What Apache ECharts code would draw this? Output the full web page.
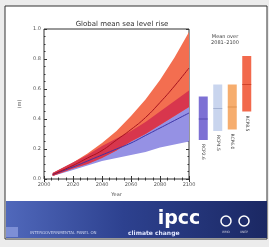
<!DOCTYPE html>
<html>
<head>
<meta charset="utf-8">
<script src="https://cdn.jsdelivr.net/npm/echarts@6/dist/echarts.min.js"></script>
<style>
  html, body { margin: 0; padding: 0; background: #ececec; }
  #chart { width: 269px; height: 247px; }
</style>
</head>
<body>
<div id="chart"></div>
<script>
// time series (m, relative to 1986-2005)
const years = [2006, 2020, 2030, 2040, 2050, 2060, 2070, 2080, 2090, 2100]
const rcp26Low = [0.02, 0.06, 0.09, 0.12, 0.14, 0.16, 0.18, 0.21, 0.23, 0.25]
const rcp26High = [0.04, 0.11, 0.16, 0.22, 0.27, 0.32, 0.38, 0.45, 0.52, 0.59]
const rcp26Mean = [0.03, 0.08, 0.12, 0.16, 0.20, 0.24, 0.29, 0.34, 0.39, 0.44]
const rcp85Low = [0.02, 0.07, 0.10, 0.14, 0.19, 0.25, 0.30, 0.36, 0.42, 0.48]
const rcp85High = [0.04, 0.11, 0.17, 0.24, 0.32, 0.42, 0.53, 0.66, 0.81, 0.98]
const rcp85Mean = [0.03, 0.09, 0.14, 0.19, 0.26, 0.33, 0.41, 0.51, 0.62, 0.74]

// mean over 2081-2100
const scenarios = ['RCP2.6', 'RCP4.5', 'RCP6.0', 'RCP8.5']
const barLow = [0.26, 0.32, 0.33, 0.45]
const barHigh = [0.55, 0.63, 0.63, 0.82]
const barMean = [0.40, 0.47, 0.48, 0.63]
const barColors = ['#7d70d4', '#c9d5ee', '#f6ad6e', '#f2694c']
const barMeanColors = ['#4b3fa8', '#9aa8cc', '#d98a48', '#c73a22']

const pairs = arr => years.map((y, i) => [y, arr[i]])

// overlap of the two ranges
const overlapHigh = rcp26High.map((v, i) => Math.min(v, rcp85High[i]))
const overlapLow = rcp85Low.map((v, i) => Math.max(v, rcp26Low[i]))

// band drawn as polygon between low and high through the axis scales
const band = (low, high, color) => ({
    type: 'custom', xAxisIndex: 0, yAxisIndex: 0, z: 2, silent: true,
    data: [[years[0], high[0]]],
    renderItem: (params, api) => {
        const top = years.map((y, i) => api.coord([y, high[i]]))
        const bot = years.map((y, i) => api.coord([y, Math.min(low[i], high[i])])).reverse()
        return {
            type: 'polygon',
            shape: { points: top.concat(bot) },
            style: { fill: color }
        }
    }
})

const chart = echarts.init(document.getElementById('chart'))
const axisText = { fontSize: 5, color: '#555', fontFamily: 'DejaVu Sans' }

chart.setOption({
    animation: false,
    backgroundColor: 'transparent',
    graphic: [
        { type: 'rect', shape: { x: 5, y: 6, width: 262, height: 233 },
          style: { fill: '#fff', stroke: '#333', lineWidth: 1 }, z: -10 },
        { type: 'rect', shape: { x: 6, y: 201, width: 261, height: 37 },
          style: { fill: new echarts.graphic.LinearGradient(0, 0, 1, 0, [
              { offset: 0, color: '#5068bb' }, { offset: 0.45, color: '#2d418f' }, { offset: 1, color: '#1b2863' }]) }, z: -5 },
        { type: 'rect', shape: { x: 6, y: 227, width: 12, height: 10 }, style: { fill: '#7d8fd6' }, z: -4 },
        { type: 'text', x: 179, y: 219, style: { text: 'ipcc', fill: '#fff', font: 'bold 19px "DejaVu Sans"', align: 'center', verticalAlign: 'middle' } },
        { type: 'text', x: 30, y: 233, style: { text: 'INTERGOVERNMENTAL PANEL ON', fill: '#c8d0ee', font: '4px "DejaVu Sans"', verticalAlign: 'middle' } },
        { type: 'text', x: 128, y: 233, style: { text: 'climate change', fill: '#e0e6ff', font: 'bold 6px "DejaVu Sans"', verticalAlign: 'middle' } },
        { type: 'circle', shape: { cx: 226, cy: 221, r: 5 }, style: { fill: 'none', stroke: '#fff', lineWidth: 1.5 } },
        { type: 'circle', shape: { cx: 244, cy: 221, r: 5 }, style: { fill: 'none', stroke: '#fff', lineWidth: 1.5 } },
        { type: 'text', x: 226, y: 231, style: { text: 'WMO', fill: '#ccd', font: '3px "DejaVu Sans"', align: 'center' } },
        { type: 'text', x: 244, y: 231, style: { text: 'UNEP', fill: '#ccd', font: '3px "DejaVu Sans"', align: 'center' } },
        { type: 'text', x: 225, y: 40, style: { text: 'Mean over\n2081–2100', fill: '#444', font: '5px "DejaVu Sans"', align: 'center', verticalAlign: 'middle', lineHeight: 6 } }
    ],
    title: {
        text: 'Global mean sea level rise', left: 117, top: 16, textAlign: 'center',
        textStyle: { fontSize: 7, fontWeight: 'normal', color: '#333', fontFamily: 'DejaVu Sans' }
    },
    grid: [
        { left: 44, right: 80, top: 29, bottom: 68, show: true, borderColor: '#333', borderWidth: 1, backgroundColor: '#fff' },
        { left: 196, width: 58, top: 29, bottom: 68 }
    ],
    xAxis: [
        { type: 'value', gridIndex: 0, min: 2000, max: 2100, interval: 20,
          name: 'Year', nameLocation: 'middle', nameGap: 9, nameTextStyle: axisText,
          axisLine: { show: false }, splitLine: { show: false },
          axisTick: { inside: true, length: 3, lineStyle: { color: '#333' } },
          minorTick: { show: true, splitNumber: 4, length: 1.5, lineStyle: { color: '#333' } },
          axisLabel: Object.assign({ margin: 3, formatter: v => String(v) }, axisText) },
        { type: 'value', gridIndex: 0, position: 'top', min: 2000, max: 2100, interval: 20,
          axisLine: { show: false }, splitLine: { show: false }, axisLabel: { show: false },
          axisTick: { inside: true, length: 3, lineStyle: { color: '#333' } },
          minorTick: { show: true, splitNumber: 4, length: 1.5, lineStyle: { color: '#333' } } },
        { type: 'category', gridIndex: 1, data: scenarios, show: false }
    ],
    yAxis: [
        { type: 'value', gridIndex: 0, min: 0, max: 1, interval: 0.2,
          name: '(m)', nameLocation: 'middle', nameGap: 17, nameRotate: 90, nameTextStyle: axisText,
          axisLine: { show: false }, splitLine: { show: false },
          axisTick: { inside: true, length: 3, lineStyle: { color: '#333' } },
          minorTick: { show: true, splitNumber: 4, length: 1.5, lineStyle: { color: '#333' } },
          axisLabel: Object.assign({ margin: 3, formatter: v => v.toFixed(1) }, axisText) },
        { type: 'value', gridIndex: 0, position: 'right', min: 0, max: 1, interval: 0.2,
          axisLine: { show: false }, splitLine: { show: false }, axisLabel: { show: false },
          axisTick: { inside: true, length: 3, lineStyle: { color: '#333' } },
          minorTick: { show: true, splitNumber: 4, length: 1.5, lineStyle: { color: '#333' } } },
        { type: 'value', gridIndex: 1, min: 0, max: 1, show: false }
    ],
    series: [
        band(rcp26Low, rcp26High, '#9591e4'),
        band(rcp85Low, rcp85High, '#f36e50'),
        band(overlapLow, overlapHigh, '#d8364d'),
        { type: 'line', smooth: true, symbol: 'none', data: pairs(rcp26Mean), lineStyle: { color: '#3d33a6', width: 1 }, z: 3 },
        { type: 'line', smooth: true, symbol: 'none', data: pairs(rcp85Mean), lineStyle: { color: '#a8121e', width: 1 }, z: 3 },
        {
            type: 'custom', xAxisIndex: 2, yAxisIndex: 2,
            data: scenarios.map((s, i) => [i, barLow[i], barHigh[i], barMean[i]]),
            renderItem: (params, api) => {
                const i = api.value(0)
                const lo = api.coord([i, api.value(1)])
                const hi = api.coord([i, api.value(2)])
                const mn = api.coord([i, api.value(3)])
                const w = 9
                return {
                    type: 'group',
                    children: [
                        { type: 'rect', shape: { x: lo[0] - w / 2, y: hi[1], width: w, height: lo[1] - hi[1] },
                          style: { fill: barColors[i] } },
                        { type: 'line', shape: { x1: lo[0] - w / 2, y1: mn[1], x2: lo[0] + w / 2, y2: mn[1] },
                          style: { stroke: barMeanColors[i], lineWidth: 0.8 } },
                        { type: 'text', x: lo[0], y: lo[1] + 4, rotation: -Math.PI / 2,
                          style: { text: scenarios[i], fill: '#444', font: '4.5px "DejaVu Sans"', align: 'left', verticalAlign: 'middle' } }
                    ]
                }
            }
        }
    ]
})
</script>
</body>
</html>
